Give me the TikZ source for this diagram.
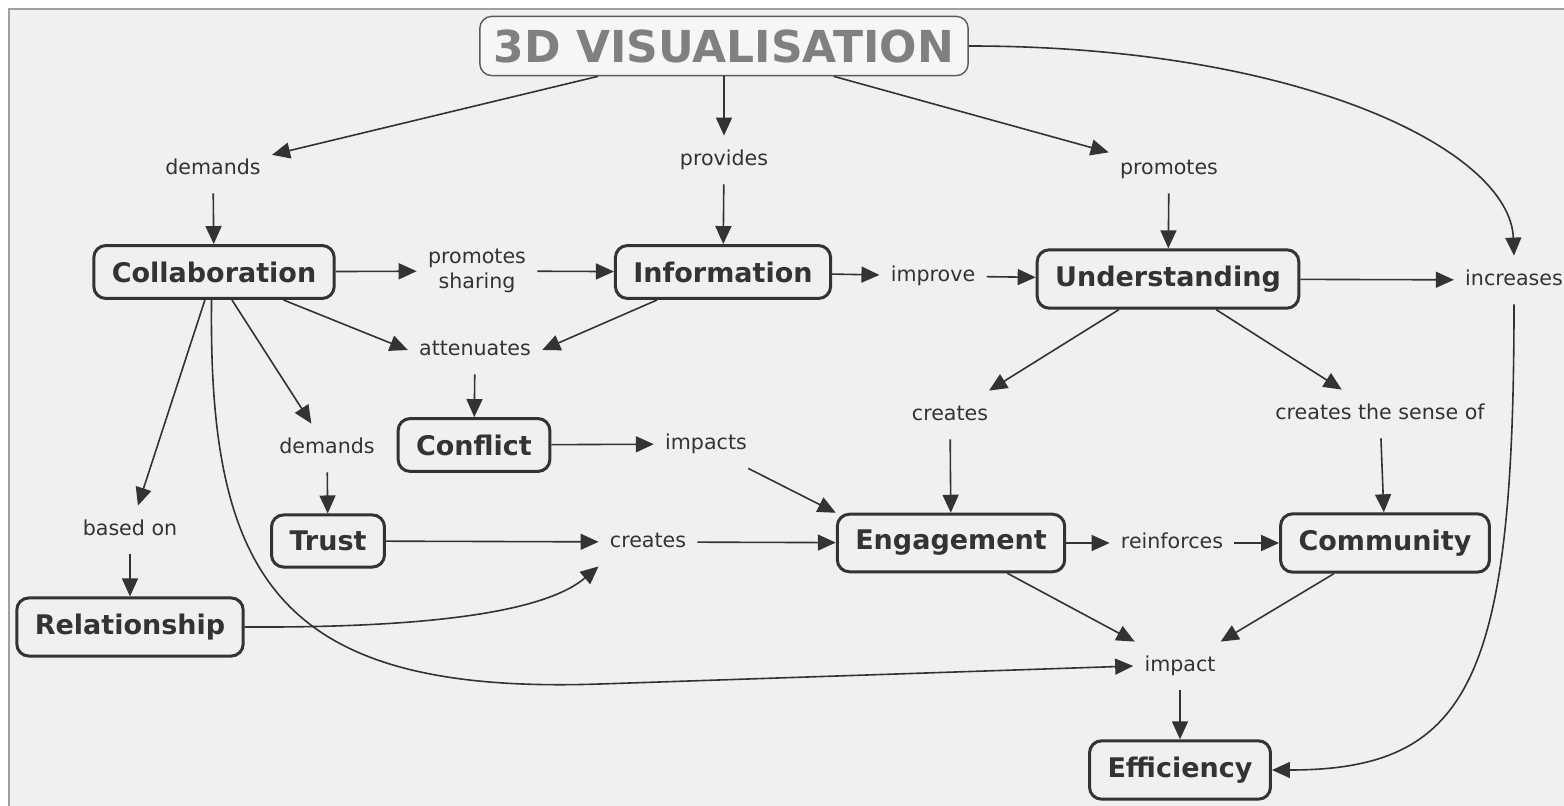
\documentclass[tikz,border=0pt]{standalone}
\usepackage{fontspec}
\setmainfont{DejaVu Sans}
\usepackage{xcolor}
\usepackage{tikz}
\usetikzlibrary{arrows.meta}
\definecolor{ink}{HTML}{333333}
\definecolor{paper}{HTML}{F0F0F0}
\definecolor{titlegray}{HTML}{808080}
\definecolor{framegray}{HTML}{A0A0A0}

\begin{document}
\begin{tikzpicture}[x=0.5pt,y=-0.5pt,
		concept/.style={draw=ink,line width=1.5pt,rounded corners=6pt,fill=paper,text=ink,
			font=\fontsize{13.5}{16}\selectfont\bfseries,inner xsep=9pt,inner ysep=8pt},
		link/.style={text=ink,font=\fontsize{10.3}{12.5}\selectfont,inner xsep=5.5pt,inner ysep=7.5pt,
			text height=7.5pt,text depth=1.5pt,align=center},
		arr/.style={draw=ink,line width=0.8pt,-{Triangle[length=9pt,width=8pt]}}]
		\useasboundingbox (0,0) rectangle (1564,806);
		\fill[white] (0,0) rectangle (1564,806);
		\fill[paper] (9,9) rectangle (1564,806);
		\draw[framegray,line width=1pt] (9,806) -- (9,9) -- (1564,9);

		% concepts
		\node[draw=ink!80,line width=0.7pt,rounded corners=6pt,fill=paper!60!white,text=titlegray,
			font=\fontsize{22}{26}\selectfont\bfseries,inner xsep=7pt,inner ysep=6.5pt] (vis) at (724,46) {3D VISUALISATION};
		\node[concept] (coll) at (214,272) {Collaboration};
		\node[concept] (info) at (723,272) {Information};
		\node[concept] (und) at (1168,279) {Understanding};
		\node[concept] (conf) at (474,445) {Conflict};
		\node[concept] (trust) at (328,541) {Trust};
		\node[concept] (rel) at (130,627) {Relationship};
		\node[concept] (eng) at (951,543) {Engagement};
		\node[concept] (comm) at (1385,543) {Community};
		\node[concept] (eff) at (1180,770) {Efficiency};

		% linking phrases
		\node[link] (dem1) at (213,169) {demands};
		\node[link] (prov) at (724,160) {provides};
		\node[link] (prom) at (1169,169) {promotes};
		\node[link,text height={},text depth={},inner ysep=4pt] (share) at (477,271) {promotes\\sharing};
		\node[link] (impr) at (933,276) {improve};
		\node[link] (incr) at (1514,280) {increases};
		\node[link] (att) at (475,350) {attenuates};
		\node[link] (cre1) at (950,415) {creates};
		\node[link] (sense) at (1380,414) {creates the sense of};
		\node[link] (dem2) at (327,448) {demands};
		\node[link] (imps) at (706,444) {impacts};
		\node[link] (based) at (130,530) {based on};
		\node[link] (cre2) at (648,542) {creates};
		\node[link] (reinf) at (1172,543) {reinforces};
		\node[link] (imp) at (1180,666) {impact};

		% from the top
		\draw[arr] (vis) -- (dem1);
		\draw[arr] (vis) -- (prov);
		\draw[arr] (vis) -- (prom);
		\draw[arr] (vis.east) .. controls (1300,46) and (1510,150) .. (incr.north);
		\draw[arr] (dem1) -- (coll);
		\draw[arr] (prov) -- (info);
		\draw[arr] (prom) -- (und);

		% middle row
		\draw[arr] (coll) -- (share);
		\draw[arr] (share) -- (info);
		\draw[arr] (info) -- (impr);
		\draw[arr] (impr) -- (und);
		\draw[arr] (und) -- (incr);
		\draw[arr] (incr.south) .. controls (1514,680) and (1470,770) .. (eff.east);

		% collaboration and its branches
		\draw[arr] (coll) -- (att.west);
		\draw[arr] (info.203) -- (att.east);
		\draw[arr] (att) -- (conf);
		\draw[arr] (coll) -- (dem2);
		\draw[arr] (dem2) -- (trust);
		\draw[arr] (coll) -- (based);
		\draw[arr] (based) -- (rel);
		\draw[arr] (coll.-95) .. controls (208,580) and (280,695) .. (600,684) -- (imp.west);

		% towards engagement
		\draw[arr] (conf) -- (imps);
		\draw[arr] (imps.-30) -- (eng.north west);
		\draw[arr] (trust) -- (cre2);
		\draw[arr] (cre2) -- (eng);
		\draw[arr] (rel.east) .. controls (430,628) and (545,612) .. (cre2.south west);
		\draw[arr] (und) -- (cre1);
		\draw[arr] (und) -- (sense);
		\draw[arr] (cre1) -- (eng);
		\draw[arr] (sense) -- (comm);
		\draw[arr] (eng) -- (reinf);
		\draw[arr] (reinf) -- (comm);

		% efficiency
		\draw[arr] (eng) -- (imp);
		\draw[arr] (comm) -- (imp);
		\draw[arr] (imp) -- (eff);
\end{tikzpicture}
\end{document}
